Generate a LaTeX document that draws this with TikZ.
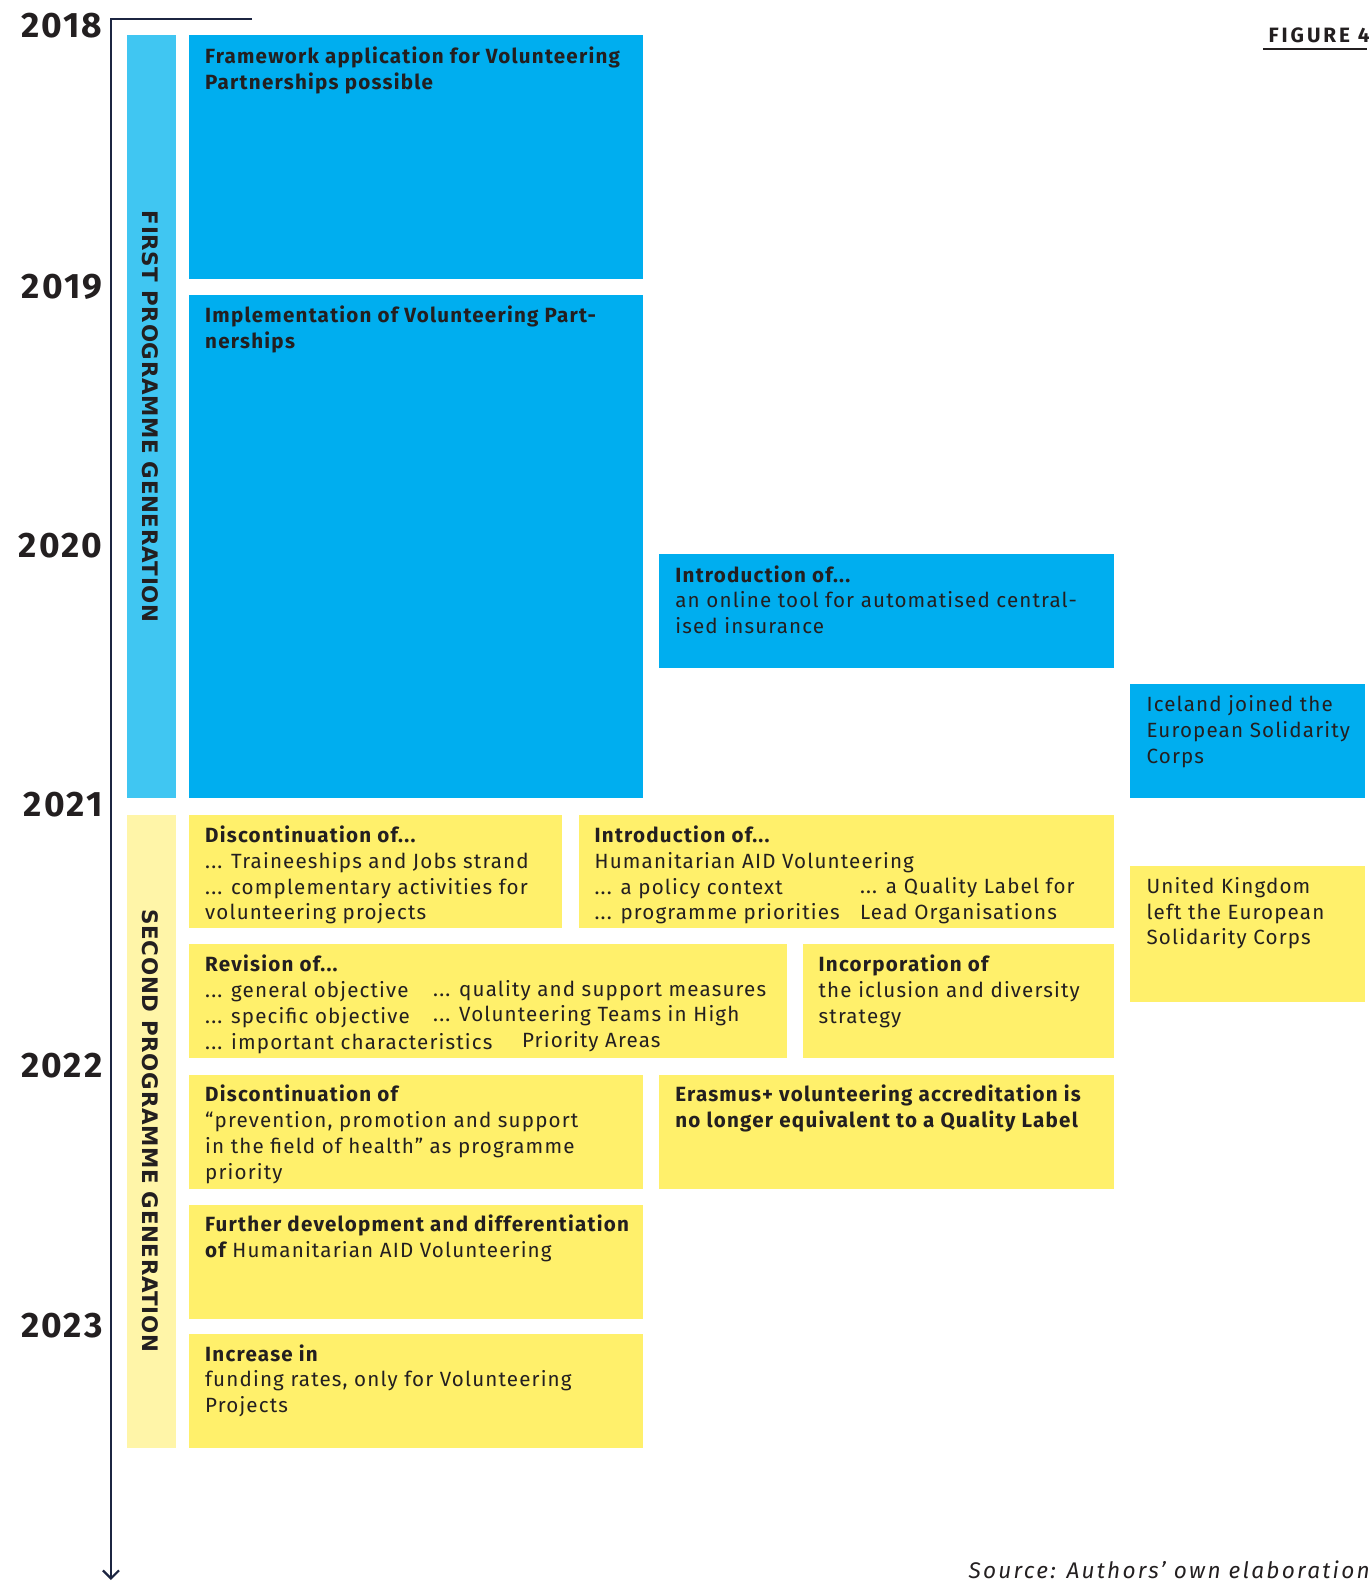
\documentclass[tikz,border=0pt]{standalone}
\usepackage{fontspec}
\setmainfont{Fira Sans}[LetterSpace=5.6]
\newfontfamily\genfont{DejaVu Sans}[LetterSpace=3]
\newfontfamily\boldbody{Fira Sans}[LetterSpace=6]
\newfontfamily\yearfont{Fira Sans}[LetterSpace=6]
\newfontfamily\figfont{Fira Sans}[LetterSpace=14]
\newfontfamily\srcfont{Fira Sans}[LetterSpace=10]
\usetikzlibrary{arrows.meta}
\definecolor{bluebox}{HTML}{00AEEF}
\definecolor{bluebar}{HTML}{40C6F2}
\definecolor{yelbox}{HTML}{FFF06B}
\definecolor{yelbar}{HTML}{FFF5A8}
\definecolor{txt}{HTML}{231F20}
\definecolor{axis}{HTML}{1C2541}
\newcommand\bx[1]{{\boldbody\bfseries #1}}
\tikzset{
  every node/.style={text=txt},
  tx/.style={anchor=north west, inner sep=0pt, align=left,
    font=\fontsize{10.2}{12.8}\selectfont},
  yr/.style={anchor=base east, inner sep=0pt,
    font=\fontsize{17.5}{20}\selectfont\yearfont\bfseries},
  gen/.style={rotate=-90, inner sep=0pt,
    font=\fontsize{10.6}{12}\selectfont\genfont\bfseries},
}
\begin{document}
\begin{tikzpicture}[x=0.5pt,y=-0.5pt]
\useasboundingbox (0,0) rectangle (1356,1568);
% axis
\draw[axis, line width=1.2pt, -{Straight Barb[length=4pt,width=8pt,line width=1.1pt]}]
  (250,19) -- (110,19) -- (110,1566);
% years
\node[yr] (y18) at (102,37.5) {2018};
\node[yr] (y19) at (102,295.5) {2019};
\node[yr] (y20) at (102,552.5) {2020};
\node[yr] (y21) at (102,809.5) {2021};
\node[yr] (y22) at (102,1067.5) {2022};
\node[yr] (y23) at (102,1325.5) {2023};
% generation bars
\fill[bluebar] (126,35) rectangle (174,791);
\fill[yelbar] (126,808) rectangle (174,1435);
\node[gen] (g1) at (149,413) {FIRST PROGRAMME GENERATION};
\node[gen] (g2) at (149,1121) {SECOND PROGRAMME GENERATION};
% figure label
\node[anchor=base east, inner sep=0pt, font=\fontsize{10.3}{12}\selectfont\figfont\bfseries] (fig) at (1358,42) {FIGURE 4};
\draw[txt, line width=1.3pt] (1252,48.5) -- (1355,48.5);
% boxes
\fill[bluebox] (187,35) rectangle (637,277);
\node[tx] (b1) at (203,46) {\bx{Framework application for Volunteering}\\\bx{Partnerships possible}};
\fill[bluebox] (187,292) rectangle (637,791);
\node[tx] (b2) at (203,303) {\bx{Implementation of Volunteering Part-}\\\bx{nerships}};
\fill[bluebox] (653,549) rectangle (1104,662);
\node[tx] (b3) at (669,560) {\bx{Introduction of...}\\an online tool for automatised central-\\ised insurance};
\fill[bluebox] (1120,678) rectangle (1353,791);
\node[tx] (b4) at (1136,689) {Iceland joined the\\European Solidarity\\Corps};
\fill[yelbox] (187,808) rectangle (557,920);
\node[tx] (b5) at (203,818) {\bx{Discontinuation of...}\\... Traineeships and Jobs strand\\... complementary activities for\\volunteering projects};
\fill[yelbox] (574,808) rectangle (1104,920);
\node[tx] (b6) at (589,818) {\bx{Introduction of...}\\Humanitarian AID Volunteering\\... a policy context\\... programme priorities};
\node[tx] (b6b) at (852,869) {... a Quality Label for\\Lead Organisations};
\fill[yelbox] (1120,858) rectangle (1353,993);
\node[tx] (b7) at (1136,869) {United Kingdom\\left the European\\Solidarity Corps};
\fill[yelbox] (187,936) rectangle (780,1049);
\node[tx] (b8) at (203,946) {\bx{Revision of...}\\... general objective\\... specific objective\\... important characteristics};
\node[tx] (b8b) at (429,971) {... quality and support measures\\... Volunteering Teams in High};
\node[tx] (b8c) at (517,1022) {Priority Areas};
\fill[yelbox] (796,936) rectangle (1104,1049);
\node[tx] (b9) at (811,946) {\bx{Incorporation of}\\the iclusion and diversity\\strategy};
\fill[yelbox] (187,1065) rectangle (637,1178);
\node[tx] (b10) at (203,1075) {\bx{Discontinuation of}\\“prevention, promotion and support\\in the field of health” as programme\\priority};
\fill[yelbox] (653,1065) rectangle (1104,1178);
\node[tx] (b11) at (669,1075) {\bx{Erasmus+ volunteering accreditation is}\\\bx{no longer equivalent to a Quality Label}};
\fill[yelbox] (187,1194) rectangle (637,1307);
\node[tx] (b12) at (203,1204) {\bx{Further development and differentiation}\\\bx{of} Humanitarian AID Volunteering};
\fill[yelbox] (187,1322) rectangle (637,1435);
\node[tx] (b13) at (203,1332) {\bx{Increase in}\\funding rates, only for Volunteering\\Projects};
% source
\node[anchor=base east, inner sep=0pt, font=\fontsize{11.2}{13}\selectfont\srcfont\itshape] (src) at (1358,1565) {Source: Authors’ own elaboration};
\end{tikzpicture}
\end{document}
